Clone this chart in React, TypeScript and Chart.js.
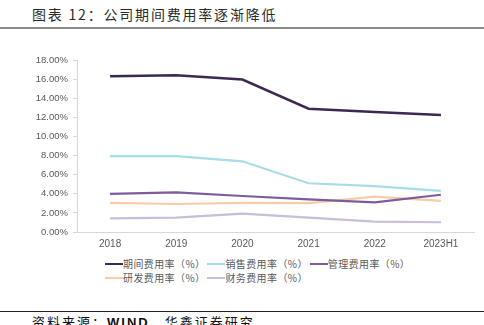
import React, { useEffect, useRef } from "react";
import { Chart, registerables } from "chart.js";

Chart.register(...registerables);

const categories = ["2018", "2019", "2020", "2021", "2022", "2023H1"];
const periodRate = [16.3, 16.4, 15.95, 12.9, 12.55, 12.25];
const salesRate = [7.95, 7.95, 7.4, 5.1, 4.8, 4.3];
const adminRate = [4.0, 4.15, 3.77, 3.42, 3.1, 3.9];
const rdRate = [3.05, 2.93, 3.05, 3.02, 3.7, 3.25];
const financeRate = [1.43, 1.5, 1.92, 1.5, 1.08, 1.02];
const yTicks = [0, 2, 4, 6, 8, 10, 12, 14, 16, 18];

const seriesNames = [
  "期间费用率（%）",
  "销售费用率（%）",
  "管理费用率（%）",
  "研发费用率（%）",
  "财务费用率（%）",
];
const seriesColors = ["#3b2a50", "#a9dce6", "#7b5c9f", "#fbcaa6", "#c8bedb"];
const seriesWidths = [2.5, 2.2, 2.2, 2.2, 2.2];
const seriesData = [periodRate, salesRate, adminRate, rdRate, financeRate];

const cjk = '"Noto Sans CJK SC", "Noto Sans", sans-serif';
const latin = '"Liberation Sans", Arial, sans-serif';

export default function App() {
  const ref = useRef<HTMLCanvasElement>(null);

  useEffect(() => {
    if (!ref.current) return;
    const chart = new Chart(ref.current, {
      type: "line",
      data: {
        labels: categories,
        datasets: seriesData.map((d, i) => ({
          label: seriesNames[i],
          data: d,
          borderColor: seriesColors[i],
          backgroundColor: seriesColors[i],
          borderWidth: seriesWidths[i],
          pointRadius: 0,
          tension: 0,
          fill: false,
        })),
      },
      options: {
        responsive: false,
        animation: false,
        layout: { padding: { top: 20, right: 10, left: 0, bottom: 0 } },
        plugins: { legend: { display: false }, tooltip: { enabled: false } },
        scales: {
          x: {
            offset: true,
            grid: { display: false, drawTicks: false },
            border: { display: true, color: "#d9d9d9", width: 1 },
            ticks: {
              color: "#595959",
              font: { family: latin, size: 10 },
              padding: 6,
              maxRotation: 0,
            },
            afterFit: (s: any) => {
              s.height = 23;
            },
          },
          y: {
            min: 0,
            max: 18,
            afterBuildTicks: (s: any) => {
              s.ticks = yTicks.map((v) => ({ value: v }));
            },
            grid: {
              drawOnChartArea: false,
              drawTicks: true,
              tickLength: 4,
              color: "#d9d9d9",
            },
            border: { display: true, color: "#d9d9d9", width: 1 },
            ticks: {
              color: "#595959",
              font: { family: latin, size: 9.5 },
              padding: 5,
              callback: (v: any) => Number(v).toFixed(2) + "%",
            },
            afterFit: (s: any) => {
              s.width = 77;
            },
          },
        },
      },
    });
    return () => chart.destroy();
  }, []);

  return (
    <div
      style={{
        position: "fixed",
        left: 0,
        top: 0,
        width: 484,
        height: 325,
        background: "#fff",
        overflow: "hidden",
      }}
    >
      <div
        style={{
          position: "absolute",
          left: 32,
          top: 5,
          fontFamily: cjk,
          fontSize: 14,
          lineHeight: "18px",
          letterSpacing: "1.8px",
          color: "#2b2b2b",
          whiteSpace: "nowrap",
        }}
      >
        图表 12：公司期间费用率逐渐降低
      </div>
      <div
        style={{
          position: "absolute",
          left: 0,
          top: 27,
          width: 484,
          height: 2,
          background: "#8c8c8c",
        }}
      />
      <canvas
        ref={ref}
        width={484}
        height={215}
        style={{ position: "absolute", left: 0, top: 40, width: 484, height: 215 }}
      />
      <div
        style={{
          position: "absolute",
          left: 105,
          top: 257,
          width: 312,
          display: "flex",
          flexWrap: "wrap",
          columnGap: 2,
        }}
      >
        {seriesNames.map((n, i) => (
          <div
            key={n}
            style={{ display: "flex", alignItems: "center", height: 14 }}
          >
            <span
              style={{
                display: "inline-block",
                width: 18,
                height: 2,
                background: seriesColors[i],
              }}
            />
            <span
              style={{
                fontFamily: cjk,
                fontSize: 10,
                color: "#595959",
                lineHeight: "14px",
                whiteSpace: "nowrap",
                letterSpacing: "0.4px",
              }}
            >
              {n}
            </span>
          </div>
        ))}
      </div>
      <div
        style={{
          position: "absolute",
          left: 0,
          top: 311,
          width: 484,
          height: 1,
          background: "#222",
        }}
      />
      <div
        style={{
          position: "absolute",
          left: 32,
          top: 314,
          fontFamily: cjk,
          fontSize: 13,
          lineHeight: "16px",
          color: "#111",
          whiteSpace: "nowrap",
          letterSpacing: "2px",
        }}
      >
        资料来源：<b style={{ fontFamily: latin }}>WIND</b>　华鑫证券研究
      </div>
    </div>
  );
}
